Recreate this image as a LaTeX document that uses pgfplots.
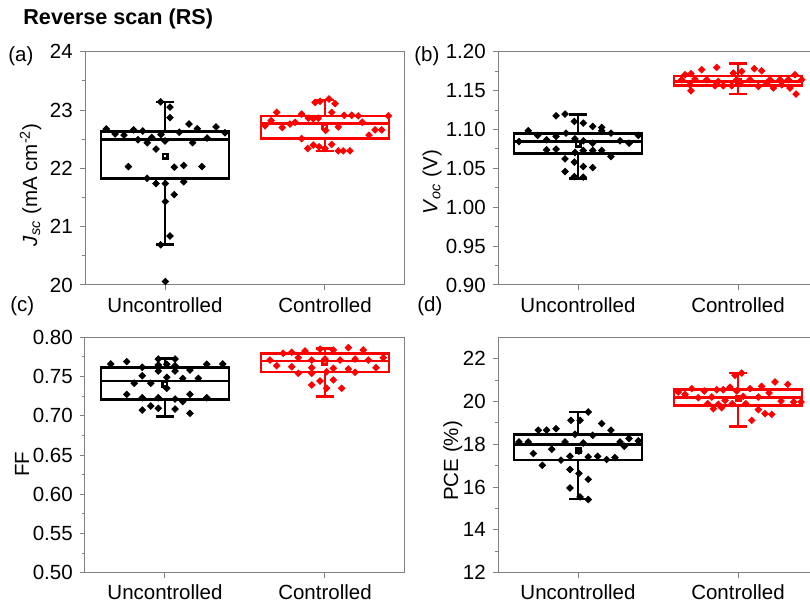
\documentclass[border=0pt]{standalone}
\usepackage{fontspec}
\setmainfont{Liberation Sans}
\usepackage{pgfplots}
\pgfplotsset{compat=1.18}
\usepgfplotslibrary{statistics}
\definecolor{framegray}{RGB}{128,128,128}
\pgfplotsset{
  panel/.style={
    scale only axis, width=160pt,
    xmin=0.5, xmax=2.5, xtick={1,2}, xticklabels={Uncontrolled,Controlled},
    tick align=outside, tick pos=left,
    axis line style={framegray, line width=0.5pt},
    every tick/.style={framegray, line width=0.5pt},
    major tick length=2.6pt, minor tick length=1.6pt,
    minor y tick num=1,
    tick label style={font=\fontsize{10.25}{12}\selectfont},
    label style={font=\fontsize{10.25}{12}\selectfont},
    /pgf/number format/assume math mode=true,
    clip=false,
  },
  bx/.style={line width=1.3pt, boxplot/draw direction=y, boxplot/box extend=0.8, boxplot/whisker extend=0.11,
    boxplot/every average/.style={/tikz/mark=square, /tikz/mark size=1.1pt, /tikz/line width=0.35pt, /tikz/draw=gray, /tikz/fill=none}},
  pts/.style={only marks, mark=square*, mark size=1.15pt, mark options={rotate=45}},
}
\begin{document}
\begin{tikzpicture}
\path[use as bounding box] (0,0) rectangle (405pt,303pt);
\node[anchor=west, inner sep=0pt, font=\bfseries\fontsize{10.8}{12}\selectfont] at (11.5pt,293.5pt) {Reverse scan (RS)};
\node[anchor=west, inner sep=0pt, font=\fontsize{10.25}{12}\selectfont] at (4pt,275pt) {(a)};
\node[anchor=west, inner sep=0pt, font=\fontsize{10.25}{12}\selectfont] at (207pt,275pt) {(b)};
\node[anchor=west, inner sep=0pt, font=\fontsize{10.25}{12}\selectfont] at (5pt,150pt) {(c)};
\node[anchor=west, inner sep=0pt, font=\fontsize{10.25}{12}\selectfont] at (208.5pt,150pt) {(d)};

% (a)
\begin{axis}[panel, at={(42.5pt,160.5pt)}, anchor=south west, height=116.65pt,
  ymin=20, ymax=24, ytick={20,21,22,23,24},
  ylabel={\textit{J}\textsubscript{\textit{sc}} (mA cm\textsuperscript{-2})},
  ylabel style={at={(axis description cs:-0.17,0.43)}, anchor=center}]
\addplot[bx, black, boxplot prepared={draw position=1, lower whisker=20.69, lower quartile=21.83, median=22.49, upper quartile=22.635, upper whisker=23.14, average=22.21}] coordinates {};
\addplot[bx, red, boxplot prepared={draw position=2, lower whisker=22.30, lower quartile=22.515, median=22.77, upper quartile=22.90, upper whisker=23.17, average=22.71}] coordinates {};
\addplot[pts, black] table {
x y
0.973 23.14
1.031 23.05
1.031 22.87
1.150 22.76
0.633 22.675
1.202 22.68
1.319 22.71
0.688 22.59
0.744 22.57
0.804 22.66
0.861 22.64
0.975 22.58
1.089 22.62
1.375 22.61
0.831 22.49
0.889 22.44
0.917 22.53
1.000 22.47
1.173 22.44
1.263 22.52
0.944 22.33
0.771 22.03
1.058 22.02
1.117 22.05
1.231 22.03
0.888 21.83
0.944 21.74
1.002 21.74
1.117 21.77
1.058 21.55
1.002 21.43
1.031 20.84
0.973 20.69
1.002 20.06
};
\addplot[pts, red] table {
x y
1.938 23.13
1.969 23.15
2.025 23.19
2.063 23.11
1.698 22.96
1.854 22.93
2.042 22.96
2.120 22.91
2.167 22.91
2.208 22.90
2.396 22.90
1.896 22.86
1.927 22.85
1.958 22.86
1.663 22.82
1.625 22.73
1.733 22.70
1.781 22.76
1.813 22.79
2.083 22.71
2.233 22.79
2.004 22.65
2.275 22.57
2.313 22.66
2.354 22.66
1.854 22.51
1.892 22.34
1.927 22.40
1.963 22.37
2.000 22.34
2.042 22.41
2.083 22.30
2.114 22.30
2.156 22.30
};
\end{axis}

% (b)
\begin{axis}[panel, at={(249pt,160.5pt)}, anchor=south west, height=116.65pt,
  ymin=0.9, ymax=1.2, ytick={0.9,0.95,1,1.05,1.1,1.15,1.2},
  yticklabel style={/pgf/number format/.cd, fixed, fixed zerofill, precision=2},
  ylabel={\textit{V}\textsubscript{\textit{oc}} (V)},
  ylabel style={at={(axis description cs:-0.206,0.44)}, anchor=center}]
\addplot[bx, black, boxplot prepared={draw position=1, lower whisker=1.037, lower quartile=1.069, median=1.0845, upper quartile=1.095, upper whisker=1.119, average=1.081}] coordinates {};
\addplot[bx, red, boxplot prepared={draw position=2, lower whisker=1.1455, lower quartile=1.1562, median=1.1618, upper quartile=1.169, upper whisker=1.1845, average=1.162}] coordinates {};
\addplot[pts, black] table {
x y
0.863 1.1176
0.919 1.1198
0.977 1.1103
1.033 1.1082
1.092 1.1039
1.148 1.1026
1.148 1.0983
1.206 1.0953
0.689 1.0983
0.748 1.0923
0.863 1.0910
0.925 1.0953
1.377 1.0923
0.631 1.0845
0.804 1.0867
0.981 1.0880
1.033 1.0854
1.092 1.0824
1.263 1.0854
1.319 1.0824
0.804 1.0738
0.863 1.0747
0.981 1.0704
1.033 1.0730
1.092 1.0730
1.148 1.0730
1.206 1.0652
0.919 1.0622
0.977 1.0580
1.033 1.0523
1.092 1.0510
0.919 1.0459
0.977 1.0394
1.033 1.0387
};
\addplot[pts, red] table {
x y
1.867 1.1798
1.773 1.1768
2.102 1.1781
2.148 1.1755
1.706 1.1717
1.669 1.1704
1.971 1.1725
2.023 1.1746
2.356 1.1704
1.648 1.1640
1.731 1.1648
1.804 1.1640
1.992 1.1640
2.075 1.1640
2.200 1.1640
2.263 1.1640
2.314 1.1640
1.700 1.1575
1.856 1.1562
1.908 1.1562
1.961 1.1562
2.127 1.1553
2.221 1.1533
2.325 1.1533
1.706 1.1498
2.363 1.1455
2.013 1.1597
1.877 1.1618
2.179 1.1597
2.273 1.1575
2.398 1.1640
};
\end{axis}

% (c)
\begin{axis}[panel, at={(42.5pt,16.65pt)}, anchor=south west, height=117.7pt,
  ymin=0.5, ymax=0.8, ytick={0.5,0.55,0.6,0.65,0.7,0.75,0.8},
  yticklabel style={/pgf/number format/.cd, fixed, fixed zerofill, precision=2},
  ylabel={FF},
  ylabel style={at={(axis description cs:-0.197,0.46)}, anchor=center}]
\addplot[bx, black, boxplot prepared={draw position=1, lower whisker=0.6988, lower quartile=0.721, median=0.7443, upper quartile=0.7618, upper whisker=0.7727, average=0.740}] coordinates {};
\addplot[bx, red, boxplot prepared={draw position=2, lower whisker=0.7243, lower quartile=0.756, median=0.770, upper quartile=0.779, upper whisker=0.786, average=0.768}] coordinates {};
\addplot[pts, black] table {
x y
0.661 0.7660
0.761 0.7690
0.858 0.7618
0.958 0.7723
1.063 0.7723
0.958 0.7647
1.011 0.7656
1.063 0.7638
1.156 0.7583
1.261 0.7656
1.361 0.7660
0.958 0.7570
1.063 0.7570
0.858 0.7510
1.011 0.7490
1.111 0.7477
1.208 0.7477
0.808 0.7414
0.911 0.7414
1.011 0.7350
0.761 0.7273
0.858 0.7230
0.958 0.7230
1.063 0.7213
1.156 0.7273
1.261 0.7230
1.111 0.7180
0.858 0.7073
0.911 0.7124
0.958 0.7095
1.063 0.7086
1.156 0.7031
};
\addplot[pts, red] table {
x y
1.739 0.7796
1.792 0.7809
1.875 0.7825
1.969 0.7850
2.052 0.7838
2.146 0.7868
2.239 0.7838
1.656 0.7710
1.833 0.7740
1.917 0.7710
2.000 0.7723
2.094 0.7710
2.188 0.7723
2.271 0.7710
2.364 0.7740
1.698 0.7638
1.792 0.7625
1.917 0.7612
2.052 0.7605
2.146 0.7596
2.319 0.7612
1.833 0.7541
1.917 0.7541
2.010 0.7561
2.188 0.7554
1.969 0.7443
1.917 0.7392
2.052 0.7456
2.104 0.7350
2.010 0.7350
};
\end{axis}

% (d)
\begin{axis}[panel, at={(249pt,16.65pt)}, anchor=south west, height=117.7pt,
  ymin=12, ymax=23, ytick={12,14,16,18,20,22},
  ylabel={PCE (\%)},
  ylabel style={at={(axis description cs:-0.141,0.475)}, anchor=center}]
\addplot[bx, black, boxplot prepared={draw position=1, lower whisker=15.44, lower quartile=17.26, median=18.0, upper quartile=18.455, upper whisker=19.51, average=17.7}] coordinates {};
\addplot[bx, red, boxplot prepared={draw position=2, lower whisker=18.84, lower quartile=19.82, median=20.2, upper quartile=20.55, upper whisker=21.33, average=20.15}] coordinates {};
\addplot[pts, black] table {
x y
1.064 19.51
0.956 19.12
1.013 19.12
1.148 18.97
0.752 18.66
0.804 18.66
0.863 18.73
1.206 18.66
0.981 18.47
1.092 18.42
1.319 18.27
1.377 18.16
0.631 18.11
0.689 18.11
0.919 18.11
1.033 18.06
1.263 18.11
1.289 17.91
0.836 17.77
0.721 17.57
0.950 17.44
1.006 17.68
1.064 17.41
1.123 17.44
1.231 17.38
0.894 17.26
1.179 17.29
0.777 17.02
0.950 16.82
1.006 16.64
1.064 16.36
0.950 15.96
1.013 15.54
1.064 15.42
};
\addplot[pts, red] table {
x y
1.981 21.22
2.023 21.33
2.231 20.91
2.311 20.80
1.711 20.60
1.789 20.49
1.867 20.55
1.908 20.55
1.950 20.67
1.992 20.49
2.075 20.60
2.148 20.71
2.194 20.40
1.627 20.44
1.669 20.33
1.752 20.18
1.836 20.21
1.919 20.05
2.033 20.24
2.127 20.21
2.269 20.02
2.348 19.98
2.394 19.98
1.811 19.90
1.877 19.87
1.964 19.90
2.048 19.90
1.846 19.66
1.898 19.71
2.127 19.62
2.169 19.43
2.211 19.40
2.086 19.12
};
\end{axis}
\end{tikzpicture}
\end{document}
